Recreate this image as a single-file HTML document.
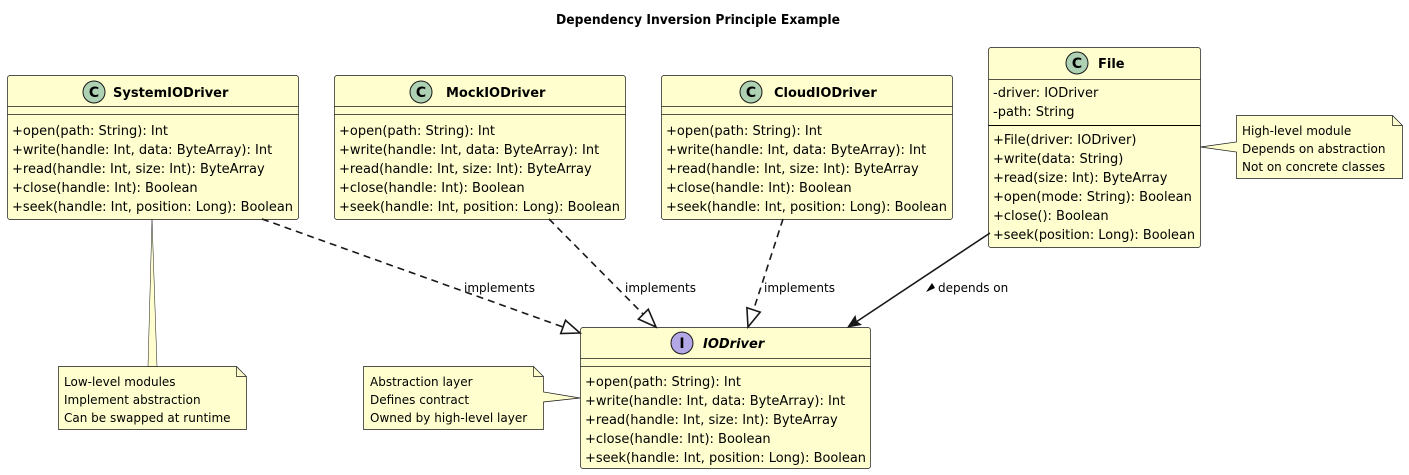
<!DOCTYPE html>
<html><head><meta charset="utf-8"><style>
html,body{margin:0;padding:0;background:#fff;}
svg{display:block;}
text{font-family:"DejaVu Sans","Liberation Sans",sans-serif;fill:#000;}
.m{font-size:13px;}
.b{font-size:13px;font-weight:bold;}
.n{font-size:12px;}
.box{fill:#FEFECE;stroke:#181818;stroke-width:0.7;}
.ln{stroke:#181818;stroke-width:0.7;}
</style></head><body>
<svg width="1409" height="475" viewBox="0 0 1409 475" xmlns="http://www.w3.org/2000/svg">
<text x="698" y="24" text-anchor="middle" font-size="13" font-weight="bold" textLength="284" lengthAdjust="spacingAndGlyphs">Dependency Inversion Principle Example</text>

<!-- SystemIODriver -->
<rect class="box" x="7.5" y="75.5" width="291" height="144" rx="2.5"/>
<line class="ln" x1="7.5" y1="106.5" x2="298.5" y2="106.5"/>
<line class="ln" x1="7.5" y1="114.5" x2="298.5" y2="114.5"/>
<circle cx="94" cy="92" r="11" fill="#ADD1B2" stroke="#181818" stroke-width="1"/>
<text x="94" y="97" text-anchor="middle" font-size="14" font-weight="bold">C</text>
<text class="b" x="113" y="97">SystemIODriver</text>
<g class="m">
<text x="12" y="135">+open(path: String): Int</text>
<text x="12" y="154">+write(handle: Int, data: ByteArray): Int</text>
<text x="12" y="173">+read(handle: Int, size: Int): ByteArray</text>
<text x="12" y="192">+close(handle: Int): Boolean</text>
<text x="12" y="211" textLength="281" lengthAdjust="spacingAndGlyphs">+seek(handle: Int, position: Long): Boolean</text>
</g>

<!-- MockIODriver -->
<rect class="box" x="334.5" y="75.5" width="291" height="144" rx="2.5"/>
<line class="ln" x1="334.5" y1="106.5" x2="625.5" y2="106.5"/>
<line class="ln" x1="334.5" y1="114.5" x2="625.5" y2="114.5"/>
<circle cx="421" cy="92" r="11" fill="#ADD1B2" stroke="#181818" stroke-width="1"/>
<text x="421" y="97" text-anchor="middle" font-size="14" font-weight="bold">C</text>
<text class="b" x="446" y="97">MockIODriver</text>
<g class="m">
<text x="339" y="135">+open(path: String): Int</text>
<text x="339" y="154">+write(handle: Int, data: ByteArray): Int</text>
<text x="339" y="173">+read(handle: Int, size: Int): ByteArray</text>
<text x="339" y="192">+close(handle: Int): Boolean</text>
<text x="339" y="211" textLength="281" lengthAdjust="spacingAndGlyphs">+seek(handle: Int, position: Long): Boolean</text>
</g>

<!-- CloudIODriver -->
<rect class="box" x="661.5" y="75.5" width="291" height="144" rx="2.5"/>
<line class="ln" x1="661.5" y1="106.5" x2="952.5" y2="106.5"/>
<line class="ln" x1="661.5" y1="114.5" x2="952.5" y2="114.5"/>
<circle cx="751" cy="92" r="11" fill="#ADD1B2" stroke="#181818" stroke-width="1"/>
<text x="751" y="97" text-anchor="middle" font-size="14" font-weight="bold">C</text>
<text class="b" x="774" y="97">CloudIODriver</text>
<g class="m">
<text x="666" y="135">+open(path: String): Int</text>
<text x="666" y="154">+write(handle: Int, data: ByteArray): Int</text>
<text x="666" y="173">+read(handle: Int, size: Int): ByteArray</text>
<text x="666" y="192">+close(handle: Int): Boolean</text>
<text x="666" y="211" textLength="281" lengthAdjust="spacingAndGlyphs">+seek(handle: Int, position: Long): Boolean</text>
</g>

<!-- File -->
<rect class="box" x="988.5" y="47.5" width="212" height="200" rx="2.5"/>
<line class="ln" x1="988.5" y1="79.5" x2="1200.5" y2="79.5"/>
<line x1="988.5" y1="125.5" x2="1200.5" y2="125.5" stroke="#000" stroke-width="1"/>
<circle cx="1077" cy="63" r="11" fill="#ADD1B2" stroke="#181818" stroke-width="1"/>
<text x="1077" y="68" text-anchor="middle" font-size="14" font-weight="bold">C</text>
<text class="b" x="1098" y="68">File</text>
<g class="m">
<text x="993" y="97">-driver: IODriver</text>
<text x="993" y="116">-path: String</text>
<text x="993" y="144">+File(driver: IODriver)</text>
<text x="993" y="163">+write(data: String)</text>
<text x="993" y="182">+read(size: Int): ByteArray</text>
<text x="993" y="201">+open(mode: String): Boolean</text>
<text x="993" y="220">+close(): Boolean</text>
<text x="993" y="239" textLength="202" lengthAdjust="spacingAndGlyphs">+seek(position: Long): Boolean</text>
</g>

<!-- IODriver -->
<rect class="box" x="580.5" y="327.5" width="290" height="141" rx="2.5"/>
<line class="ln" x1="580.5" y1="358.5" x2="870.5" y2="358.5"/>
<line class="ln" x1="580.5" y1="366.5" x2="870.5" y2="366.5"/>
<circle cx="682" cy="343" r="11" fill="#B4A7E5" stroke="#181818" stroke-width="1"/>
<text x="682" y="348" text-anchor="middle" font-size="14" font-weight="bold" font-family="Liberation Serif">I</text>
<text class="b" x="703" y="348" font-style="italic">IODriver</text>
<g class="m">
<text x="585" y="386">+open(path: String): Int</text>
<text x="585" y="405">+write(handle: Int, data: ByteArray): Int</text>
<text x="585" y="424">+read(handle: Int, size: Int): ByteArray</text>
<text x="585" y="443">+close(handle: Int): Boolean</text>
<text x="585" y="462" textLength="281" lengthAdjust="spacingAndGlyphs">+seek(handle: Int, position: Long): Boolean</text>
</g>

<!-- Notes -->
<path d="M152,219 L148,366.5 L157,366.5 Z" fill="#FEFECE" stroke="#181818" stroke-width="0.5"/>
<path d="M58.5,366.5 L236.5,366.5 L246.5,376.5 L246.5,429.5 L58.5,429.5 Z" fill="#FEFECE" stroke="#181818" stroke-width="0.7"/>
<path d="M236.5,366.5 L236.5,376.5 L246.5,376.5" fill="none" stroke="#181818" stroke-width="0.7"/>
<g class="n">
<text x="64" y="386">Low-level modules</text>
<text x="64" y="404">Implement abstraction</text>
<text x="64" y="422">Can be swapped at runtime</text>
</g>

<path d="M363.5,366.5 L533.5,366.5 L543.5,376.5 L543.5,392 L580,398 L543.5,402 L543.5,429.5 L363.5,429.5 Z" fill="#FEFECE" stroke="#181818" stroke-width="0.7"/>
<path d="M533.5,366.5 L533.5,376.5 L543.5,376.5" fill="none" stroke="#181818" stroke-width="0.7"/>
<g class="n">
<text x="370" y="386">Abstraction layer</text>
<text x="370" y="404">Defines contract</text>
<text x="370" y="422">Owned by high-level layer</text>
</g>

<path d="M1236.5,115.5 L1392.5,115.5 L1402.5,125.5 L1402.5,178.5 L1236.5,178.5 L1236.5,152 L1200.5,147 L1236.5,142 Z" fill="#FEFECE" stroke="#181818" stroke-width="0.7"/>
<path d="M1392.5,115.5 L1392.5,125.5 L1402.5,125.5" fill="none" stroke="#181818" stroke-width="0.7"/>
<g class="n">
<text x="1242" y="135">High-level module</text>
<text x="1242" y="153">Depends on abstraction</text>
<text x="1242" y="171">Not on concrete classes</text>
</g>

<!-- Connectors -->
<g stroke="#181818" stroke-width="1.6" fill="none" stroke-dasharray="7,5">
<line x1="262" y1="219" x2="563" y2="327"/>
<line x1="549" y1="219" x2="643" y2="314"/>
<line x1="783" y1="219" x2="753.5" y2="310"/>
</g>
<g stroke="#181818" stroke-width="1.6" fill="#fff">
<polygon points="580,333 560.7,333.5 565.5,320.3"/>
<polygon points="656,327 638.4,319.1 648.3,309.3"/>
<polygon points="748,327 746.9,307.8 760.2,312.1"/>
</g>
<line x1="990" y1="233" x2="850" y2="326" stroke="#181818" stroke-width="1.6"/>
<polygon points="848,327 855.2,316.2 856.3,321.5 860.8,324.6" fill="#181818" stroke="#181818" stroke-width="1"/>

<g class="n" font-size="12">
<text x="464" y="292">implements</text>
<text x="625" y="292">implements</text>
<text x="764" y="292">implements</text>
<text x="938" y="292">depends on</text>
</g>
<polygon points="926,292 935,288 932,283" fill="#000"/>
</svg>
</body></html>
